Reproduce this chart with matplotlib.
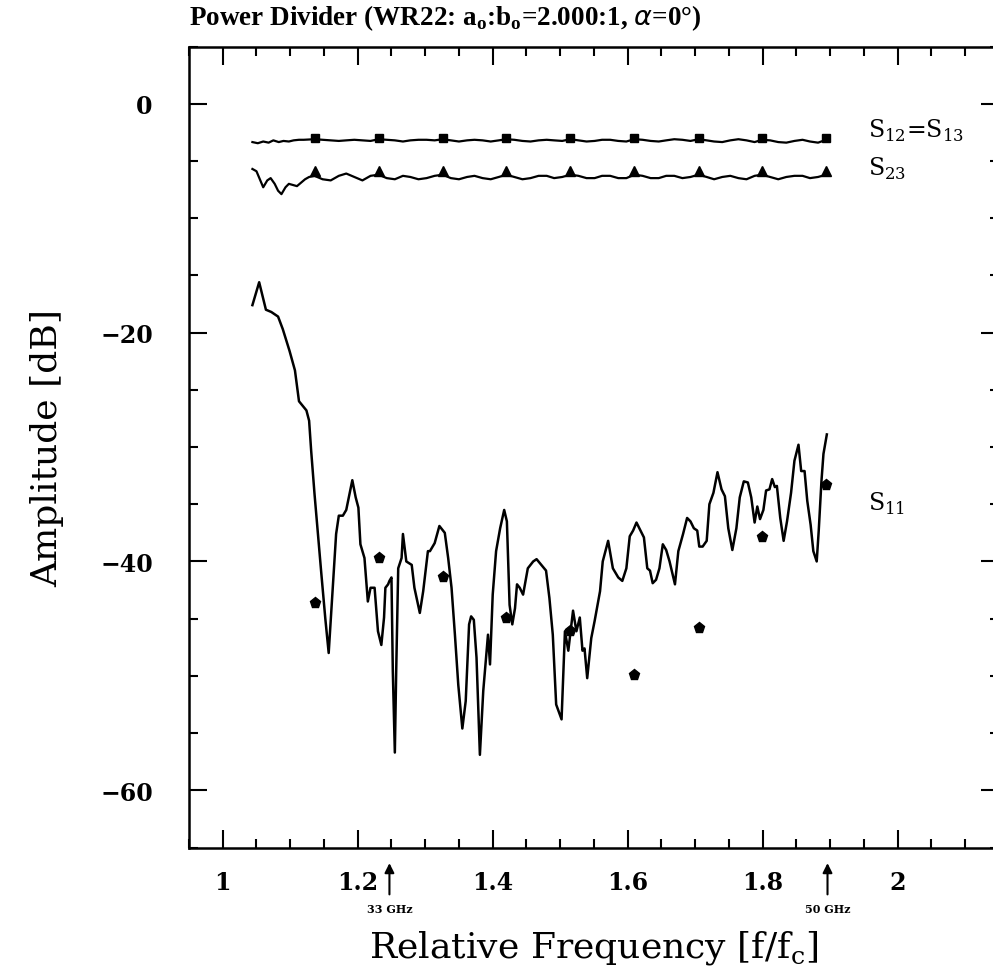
import matplotlib
matplotlib.use("Agg")
import matplotlib.pyplot as plt
from matplotlib.ticker import MultipleLocator

# S11 measured trace (relative frequency, dB)
s11_x = [1.044, 1.054, 1.064, 1.072, 1.082, 1.089, 1.099, 1.107, 1.113, 1.124, 1.128,
         1.131, 1.136, 1.141, 1.146, 1.152, 1.157, 1.163, 1.168, 1.172, 1.178, 1.183,
         1.192, 1.197, 1.201, 1.204, 1.210, 1.215, 1.219, 1.225, 1.230, 1.235, 1.239,
         1.241, 1.245, 1.247, 1.250, 1.252, 1.255, 1.257, 1.260, 1.265, 1.267, 1.272,
         1.280, 1.284, 1.292, 1.297, 1.304, 1.307, 1.314, 1.321, 1.329, 1.334, 1.339,
         1.344, 1.349, 1.355, 1.360, 1.365, 1.368, 1.372, 1.376, 1.381, 1.386, 1.391,
         1.393, 1.396, 1.400, 1.405, 1.411, 1.417, 1.421, 1.425, 1.429, 1.433, 1.436,
         1.440, 1.445, 1.452, 1.460, 1.465, 1.472, 1.479, 1.484, 1.489, 1.494, 1.502,
         1.507, 1.512, 1.519, 1.524, 1.529, 1.533, 1.536, 1.540, 1.546, 1.551, 1.559,
         1.563, 1.571, 1.578, 1.586, 1.592, 1.598, 1.603, 1.608, 1.613, 1.618, 1.624,
         1.629, 1.633, 1.637, 1.642, 1.647, 1.652, 1.657, 1.662, 1.670, 1.675, 1.682,
         1.688, 1.693, 1.698, 1.703, 1.706, 1.711, 1.717, 1.721, 1.727, 1.733, 1.739,
         1.744, 1.749, 1.755, 1.761, 1.766, 1.772, 1.778, 1.783, 1.788, 1.792, 1.796,
         1.801, 1.805, 1.810, 1.814, 1.818, 1.821, 1.826, 1.831, 1.836, 1.842, 1.847,
         1.853, 1.857, 1.862, 1.866, 1.871, 1.875, 1.880, 1.883, 1.887, 1.890, 1.895]
s11_y = [-17.6, -15.6, -18.0, -18.2, -18.6, -19.7, -21.6, -23.3, -26.0, -26.8, -27.7,
         -30.3, -34.1, -37.6, -41.0, -45.0, -48.0, -42.3, -37.6, -36.0, -36.0, -35.5,
         -32.9, -34.4, -35.3, -38.5, -39.7, -43.5, -42.3, -42.3, -46.1, -47.3, -44.9,
         -42.3, -42.0, -41.7, -41.4, -49.6, -56.7, -49.6, -40.6, -39.7, -37.6, -40.0,
         -40.3, -42.3, -44.5, -42.6, -39.1, -39.1, -38.4, -36.9, -37.5, -39.7, -42.3,
         -46.4, -50.8, -54.6, -52.2, -45.5, -44.8, -45.1, -48.4, -56.9, -51.3, -47.8,
         -46.4, -49.0, -42.9, -39.1, -37.1, -35.5, -36.5, -43.8, -45.5, -44.1, -42.0,
         -42.3, -42.9, -40.6, -40.0, -39.8, -40.3, -40.8, -43.2, -46.4, -52.5, -53.8,
         -46.1, -47.8, -44.3, -46.1, -44.9, -47.8, -47.6, -50.2, -46.7, -45.2, -42.6,
         -40.0, -38.2, -40.6, -41.4, -41.7, -40.6, -37.8, -37.3, -36.6, -37.2, -37.9,
         -40.6, -40.8, -41.9, -41.6, -40.6, -38.5, -39.0, -40.0, -42.0, -39.1, -37.6,
         -36.2, -36.5, -37.1, -37.3, -38.7, -38.7, -38.2, -35.0, -34.0, -32.2, -33.7,
         -34.3, -37.1, -39.0, -37.1, -34.4, -33.0, -33.1, -34.4, -36.6, -35.2, -36.3,
         -35.5, -33.8, -33.7, -32.8, -33.5, -33.4, -36.2, -38.2, -36.5, -34.0, -31.2,
         -29.8, -32.1, -32.1, -34.7, -36.8, -39.1, -40.0, -37.3, -33.0, -30.6, -28.9]

# S12 = S13 trace
s12_x = [1.044, 1.052, 1.060, 1.068, 1.075, 1.083, 1.090, 1.098, 1.105, 1.113, 1.120,
         1.136, 1.148, 1.160, 1.172, 1.183, 1.195, 1.207, 1.219, 1.231, 1.243, 1.255,
         1.267, 1.278, 1.290, 1.302, 1.314, 1.326, 1.338, 1.350, 1.362, 1.373, 1.385,
         1.397, 1.409, 1.420, 1.432, 1.444, 1.456, 1.468, 1.480, 1.491, 1.503, 1.515,
         1.527, 1.539, 1.551, 1.562, 1.574, 1.586, 1.598, 1.610, 1.622, 1.634, 1.646,
         1.657, 1.669, 1.681, 1.693, 1.705, 1.717, 1.728, 1.740, 1.752, 1.764, 1.776,
         1.788, 1.799, 1.811, 1.823, 1.835, 1.847, 1.859, 1.870, 1.882, 1.894]
s12_y = [-3.35, -3.45, -3.30, -3.40, -3.20, -3.35, -3.25, -3.30, -3.20, -3.15, -3.15,
         -3.10, -3.15, -3.20, -3.25, -3.20, -3.15, -3.20, -3.25, -3.10, -3.15, -3.20,
         -3.30, -3.20, -3.15, -3.15, -3.20, -3.10, -3.20, -3.30, -3.20, -3.15, -3.20,
         -3.30, -3.20, -3.10, -3.15, -3.25, -3.30, -3.20, -3.15, -3.20, -3.25, -3.10,
         -3.20, -3.30, -3.25, -3.15, -3.15, -3.25, -3.30, -3.10, -3.15, -3.25, -3.30,
         -3.20, -3.10, -3.15, -3.25, -3.10, -3.20, -3.30, -3.35, -3.20, -3.10, -3.20,
         -3.35, -3.15, -3.20, -3.35, -3.40, -3.25, -3.15, -3.30, -3.40, -3.15]

# S23 trace
s23_x = [1.044, 1.050, 1.055, 1.060, 1.066, 1.071, 1.077, 1.082, 1.087, 1.093, 1.098,
         1.104, 1.110, 1.116, 1.122, 1.128, 1.136, 1.148, 1.160, 1.172, 1.183, 1.195,
         1.207, 1.219, 1.231, 1.243, 1.255, 1.267, 1.278, 1.290, 1.302, 1.314, 1.326,
         1.338, 1.350, 1.362, 1.373, 1.385, 1.397, 1.409, 1.420, 1.432, 1.444, 1.456,
         1.468, 1.480, 1.491, 1.503, 1.515, 1.527, 1.539, 1.551, 1.562, 1.574, 1.586,
         1.598, 1.610, 1.622, 1.634, 1.646, 1.657, 1.669, 1.681, 1.693, 1.705, 1.717,
         1.728, 1.740, 1.752, 1.764, 1.776, 1.788, 1.799, 1.811, 1.823, 1.835, 1.847,
         1.859, 1.870, 1.882, 1.894]
s23_y = [-5.7, -5.9, -6.6, -7.3, -6.7, -6.5, -7.0, -7.6, -7.9, -7.3, -7.0,
         -7.1, -7.2, -6.9, -6.6, -6.4, -6.3, -6.6, -6.7, -6.3, -6.1, -6.4,
         -6.7, -6.3, -6.2, -6.5, -6.6, -6.3, -6.4, -6.6, -6.5, -6.3, -6.2,
         -6.5, -6.6, -6.4, -6.3, -6.5, -6.6, -6.4, -6.2, -6.4, -6.6, -6.5,
         -6.3, -6.3, -6.5, -6.4, -6.2, -6.3, -6.5, -6.5, -6.3, -6.3, -6.5,
         -6.5, -6.2, -6.3, -6.5, -6.5, -6.3, -6.3, -6.5, -6.4, -6.2, -6.4,
         -6.6, -6.4, -6.3, -6.5, -6.6, -6.3, -6.2, -6.4, -6.6, -6.4, -6.3,
         -6.3, -6.5, -6.4, -6.2]

# computed points (30 ... 50 GHz in 2.5 GHz steps)
pts_x = [1.136, 1.231, 1.326, 1.420, 1.515, 1.610, 1.705, 1.799, 1.894]
pts_s12 = [-3.0, -3.0, -3.0, -3.0, -3.0, -3.0, -3.0, -3.0, -3.0]
pts_s23 = [-5.9, -5.9, -5.9, -5.9, -5.9, -5.9, -5.9, -5.9, -5.9]
pts_s11 = [-43.6, -39.7, -41.4, -44.9, -46.1, -49.9, -45.8, -37.9, -33.3]

xticks = [1.0, 1.2, 1.4, 1.6, 1.8, 2.0]
xticklabels = ["1", "1.2", "1.4", "1.6", "1.8", "2"]
yticks = [0, -20, -40, -60]
band_marks = [(1.247, "33 GHz"), (1.896, "50 GHz")]

serif = ["DejaVu Serif"]
fig = plt.figure(figsize=(9.93, 9.78), dpi=100)
ax = fig.add_axes([0.1903, 0.1324, 0.8157, 0.819])

ax.plot(s11_x, s11_y, color="black", lw=1.8)
ax.plot(s12_x, s12_y, color="black", lw=1.6)
ax.plot(s23_x, s23_y, color="black", lw=1.6)
ax.plot(pts_x, pts_s12, ls="none", marker="s", ms=6, color="black")
ax.plot(pts_x, pts_s23, ls="none", marker="^", ms=6.5, color="black")
ax.plot(pts_x, pts_s11, ls="none", marker="p", ms=8, color="black")

ax.set_xlim(0.95, 2.15)
ax.set_ylim(-65, 5)
ax.set_xticks(xticks)
ax.set_xticklabels(xticklabels)
ax.set_yticks(yticks)
ax.xaxis.set_minor_locator(MultipleLocator(0.05))
ax.yaxis.set_minor_locator(MultipleLocator(5))
ax.tick_params(which="both", direction="in", top=True, right=True, width=1.5, colors="black")
ax.tick_params(which="major", length=13)
ax.tick_params(which="minor", length=6.5)
ax.tick_params(axis="x", which="major", pad=16)
ax.tick_params(axis="y", which="major", pad=26)
for lab in ax.get_xticklabels() + ax.get_yticklabels():
    lab.set_family(serif)
    lab.set_fontweight("bold")
    lab.set_fontsize(17)
for sp in ax.spines.values():
    sp.set_linewidth(1.8)

ax.set_xlabel(r"Relative Frequency [f/f$_\mathregular{c}$]", fontsize=26, family=serif, labelpad=25)
ax.set_ylabel("Amplitude [dB]", fontsize=26, family=serif, labelpad=26)

ax.text(1.956, -2.3, r"S$_\mathregular{12}$=S$_\mathregular{13}$", fontsize=17, family=serif, va="center")
ax.text(1.956, -5.6, r"S$_\mathregular{23}$", fontsize=17, family=serif, va="center")
ax.text(1.956, -34.9, r"S$_\mathregular{11}$", fontsize=17, family=serif, va="center")

trans = ax.get_xaxis_transform()
for xm, lab in band_marks:
    ax.annotate("", xy=(xm, -0.016), xytext=(xm, -0.062), xycoords=trans, textcoords=trans,
                arrowprops=dict(arrowstyle="-|>", color="black", lw=1.5, mutation_scale=14),
                annotation_clip=False)
    ax.text(xm, -0.076, lab, transform=trans, ha="center", va="center",
            fontsize=8, fontweight="bold", family=serif, clip_on=False)

fig.text(0.1903, 1 - 18 / 978, r"Power Divider (WR22: a$_\mathregular{o}$:b$_\mathregular{o}$=2.000:1, $\alpha$=0°)",
         fontsize=19.5, fontweight="bold", family=["Liberation Serif"], va="center", ha="left")

fig.savefig("out.png", dpi=100)
